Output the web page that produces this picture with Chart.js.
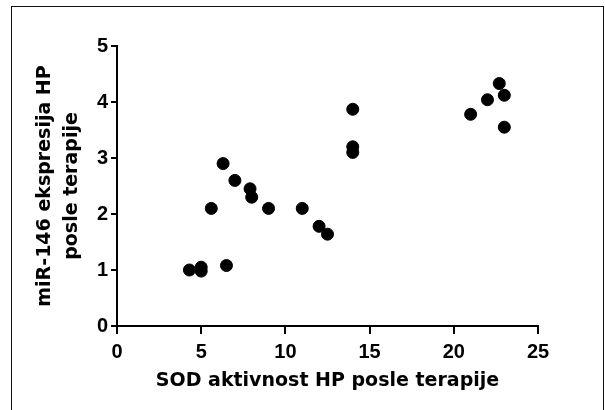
<!DOCTYPE html>
<html>
<head>
<meta charset="utf-8">
<script src="https://cdn.jsdelivr.net/npm/chart.js@4/dist/chart.umd.min.js"></script>
<style>
  html, body { margin: 0; padding: 0; background: #fff; }
  #wrap { position: relative; width: 605px; height: 410px; overflow: hidden; }
  #frame { position: absolute; left: 11px; top: 6px; width: 591px; height: 420px;
           border: 1px solid #111; pointer-events: none; }
</style>
</head>
<body>
<div id="wrap">
  <canvas id="myChart"></canvas>
  <div id="frame"></div>
</div>
<script>
// SOD activity (x) vs miR-146 expression (y), after therapy
var sodActivity = [4.3, 5.0, 5.0, 6.5, 5.6, 6.3, 7.0, 7.9, 8.0, 9.0, 11.0, 12.0, 12.5, 14.0, 14.0, 14.0, 21.0, 22.0, 22.7, 23.0, 23.0];
var mir146 = [1.0, 1.05, 0.98, 1.08, 2.1, 2.9, 2.6, 2.45, 2.3, 2.1, 2.1, 1.78, 1.64, 3.87, 3.2, 3.1, 3.78, 4.04, 4.33, 4.12, 3.55];
var xTicks = [0, 5, 10, 15, 20, 25];
var yTicks = [0, 1, 2, 3, 4, 5];

var points = sodActivity.map(function (x, i) { return { x: x, y: mir146[i] }; });

var tickFont = { family: '"Liberation Sans Narrow", "Liberation Sans", Arial, sans-serif', size: 20, weight: 'bold' };
var titleFont = { family: '"DejaVu Sans", sans-serif', size: 19, weight: 'bold' };

var ctx = document.getElementById('myChart').getContext('2d');
var myChart = new Chart(ctx, {
    type: 'scatter',
    data: {
        datasets: [{
            data: points,
            backgroundColor: '#000',
            borderColor: '#000',
            pointRadius: 6,
            pointHoverRadius: 6
        }]
    },
    options: {
        responsive: true,
        maintainAspectRatio: false,
        animation: false,
        events: [],
        layout: { padding: { top: 46, right: 67, left: 0, bottom: 0 } },
        plugins: {
            legend: { display: false },
            tooltip: { enabled: false }
        },
        scales: {
            x: {
                type: 'linear',
                min: 0,
                max: 25,
                afterBuildTicks: function (axis) { axis.ticks = xTicks.map(function (v) { return { value: v }; }); },
                afterFit: function (axis) { axis.height = 84; },
                grid: { drawOnChartArea: false, color: '#000', lineWidth: 2, tickLength: 8 },
                border: { color: '#000', width: 2 },
                ticks: { color: '#000', font: tickFont, padding: 6, maxRotation: 0 },
                title: {
                    display: true,
                    text: 'SOD aktivnost HP posle terapije',
                    color: '#000',
                    font: titleFont,
                    padding: { top: 0, bottom: 18 }
                }
            },
            y: {
                type: 'linear',
                min: 0,
                max: 5,
                afterBuildTicks: function (axis) { axis.ticks = yTicks.map(function (v) { return { value: v }; }); },
                afterFit: function (axis) { axis.width = 117; },
                grid: { drawOnChartArea: false, color: '#000', lineWidth: 2, tickLength: 6 },
                border: { color: '#000', width: 2 },
                ticks: { color: '#000', font: tickFont, padding: 3 },
                title: {
                    display: true,
                    text: ['miR-146 ekspresija HP', 'posle terapije'],
                    color: '#000',
                    font: { family: titleFont.family, size: 19, weight: 'bold', lineHeight: 1.42 },
                    padding: { top: 32, bottom: 0 }
                }
            }
        }
    }
});
</script>
</body>
</html>
